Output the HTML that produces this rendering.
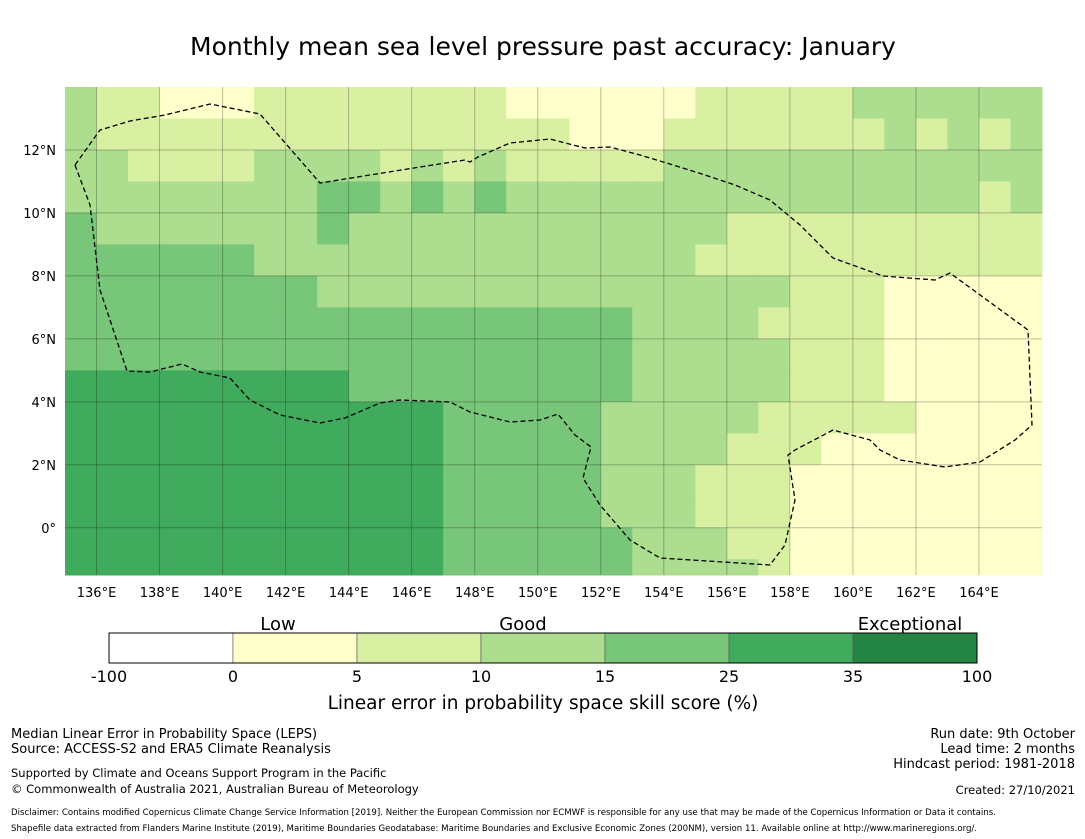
<!DOCTYPE html>
<html><head><meta charset="utf-8"><style>
body{margin:0;background:#fff;width:1085px;height:839px;overflow:hidden;font-family:"DejaVu Sans","Liberation Sans",sans-serif}
svg{position:absolute;left:0;top:0}
</style></head><body>
<svg width="1085" height="839">
<text x="543" y="55" text-anchor="middle" font-size="25" fill="#000">Monthly mean sea level pressure past accuracy: January</text>
<g id="map"></g>
<g id="grid"></g>
<g id="ticks"></g>
<polyline id="eez" fill="none" stroke="#000" stroke-width="1.3" stroke-dasharray="5,3"
points="75,165 90,205 100,290 127,371 150,372 182,364 200,372 230,378 250,400 280,415 320,423 345,418 380,403 400,400 450,402 470,412 510,422 540,420 558,414 575,435 591,447 583,478 600,505 630,540 660,558 770,565 785,545 795,500 788,455 795,450 833,430 870,440 880,450 900,460 945,467 980,462 1015,440 1032,425 1028,330 950,273 935,280 883,276 833,258 800,225 770,200 735,185 705,175 670,164 640,155 610,147 585,148 550,139 510,143 478,157 470,162 465,160 420,167 320,183 260,114 210,104 165,115 130,121 100,130 75,165"/>
<g id="cbar"></g>
<text x="278" y="630" text-anchor="middle" font-size="18">Low</text>
<text x="523" y="630" text-anchor="middle" font-size="18">Good</text>
<text x="910" y="630" text-anchor="middle" font-size="18">Exceptional</text>
<text x="543" y="709" text-anchor="middle" font-size="18.5">Linear error in probability space skill score (%)</text>
<g font-size="13">
<text x="11" y="738">Median Linear Error in Probability Space (LEPS)</text>
<text x="11" y="753">Source: ACCESS-S2 and ERA5 Climate Reanalysis</text>
<text x="11" y="777" font-size="11.5">Supported by Climate and Oceans Support Program in the Pacific</text>
<text x="11" y="793" font-size="11.5">© Commonwealth of Australia 2021, Australian Bureau of Meteorology</text>
</g>
<g font-size="13" text-anchor="end">
<text x="1075" y="738">Run date: 9th October</text>
<text x="1075" y="753">Lead time: 2 months</text>
<text x="1075" y="768">Hindcast period: 1981-2018</text>
<text x="1075" y="794" font-size="11.5">Created: 27/10/2021</text>
</g>
<text x="11" y="815" font-size="8.6">Disclaimer: Contains modified Copernicus Climate Change Service Information [2019]. Neither the European Commission nor ECMWF is responsible for any use that may be made of the Copernicus Information or Data it contains.</text>
<text x="11" y="831" font-size="8.6">Shapefile data extracted from Flanders Marine Institute (2019), Maritime Boundaries Geodatabase: Maritime Boundaries and Exclusive Economic Zones (200NM), version 11. Available online at http://www.marineregions.org/.</text>
</svg>
<script>
const colors=["#ffffff","#ffffcc","#d9f0a3","#addd8e","#78c679","#41ab5d","#238443"];
const cbarTicks=["-100","0","5","10","15","25","35","100"];
const lonTicks=[136,138,140,142,144,146,148,150,152,154,156,158,160,162,164];
const latTicks=[12,10,8,6,4,2,0];
const lonStart=135, latTop=14, latBottom=-1.5;
// class index per 1° cell; rows from 14N downward, columns 135E..165E
const gridRows=[
"3221112222222211111122222333333",
"3222222222222222111222222232323",
"3322223333232322222333333333333",
"3333333344343433333333333333323",
"4333333343333333333332222222222",
"4444443333333333333322222222222",
"4444444433333333333333322211111",
"4444444444444444443333222211111",
"4444444444444444443333322211111",
"5555555554444444443333322211111",
"5555555555554444433333222221111",
"5555555555554444433332221111111",
"5555555555554444433322211111111",
"5555555555554444433322211111111",
"5555555555554444443332211111111",
"5555555555554444443333211111111"
];
const NS="http://www.w3.org/2000/svg";
const X0=65,X1=1042,Y0=87,Y1=575;
const xs=lon=>X0+(lon-lonStart)*(X1-X0)/31;
const ys=lat=>Y0+(latTop-lat)*(Y1-Y0)/(latTop-latBottom);
function mk(t,a,p){const e=document.createElementNS(NS,t);for(const k in a)e.setAttribute(k,a[k]);p.appendChild(e);return e;}
const map=document.getElementById('map');
gridRows.forEach((row,r)=>{
  const lt=latTop-r, lb=Math.max(latTop-r-1,latBottom);
  for(let c=0;c<row.length;c++){
    const e=mk('rect',{x:xs(lonStart+c),y:ys(lt),width:xs(lonStart+c+1)-xs(lonStart+c)+0.5,height:ys(lb)-ys(lt)+0.5,fill:colors[+row[c]]},map);
    
    
  }
});
const grid=document.getElementById('grid'),ticks=document.getElementById('ticks');
lonTicks.forEach(l=>{
  const x=xs(l);
  const g=mk('line',{x1:x,x2:x,y1:Y0,y2:Y1,stroke:'#000','stroke-opacity':0.25,'stroke-width':1},grid);
  
  
  const t=mk('text',{x:x,y:597,'text-anchor':'middle','font-size':13},ticks);
  t.textContent=l+'°E';
  
  
});
latTicks.forEach(l=>{
  const y=ys(l);
  const g=mk('line',{x1:X0,x2:X1,y1:y,y2:y,stroke:'#000','stroke-opacity':0.25,'stroke-width':1},grid);
  
  
  const t=mk('text',{x:56,y:y+5,'text-anchor':'end','font-size':13},ticks);
  t.textContent=l===0?'0°':l+'°N';
  
  
});
const cb=document.getElementById('cbar');
const cbX=109,cbW=124,cbY=633,cbH=30;
colors.forEach((c,i)=>{
  const e=mk('rect',{x:cbX+i*cbW,y:cbY,width:cbW,height:cbH,fill:c,stroke:'#555','stroke-width':0.6},cb);
  
  
});
mk('rect',{x:cbX,y:cbY,width:cbW*7,height:cbH,fill:'none',stroke:'#000','stroke-width':1},cb);
cbarTicks.forEach((t,i)=>{
  const e=mk('text',{x:cbX+i*cbW,y:682,'text-anchor':'middle','font-size':16},cb);
  e.textContent=t;
  
  
});
</script>
</body></html>
